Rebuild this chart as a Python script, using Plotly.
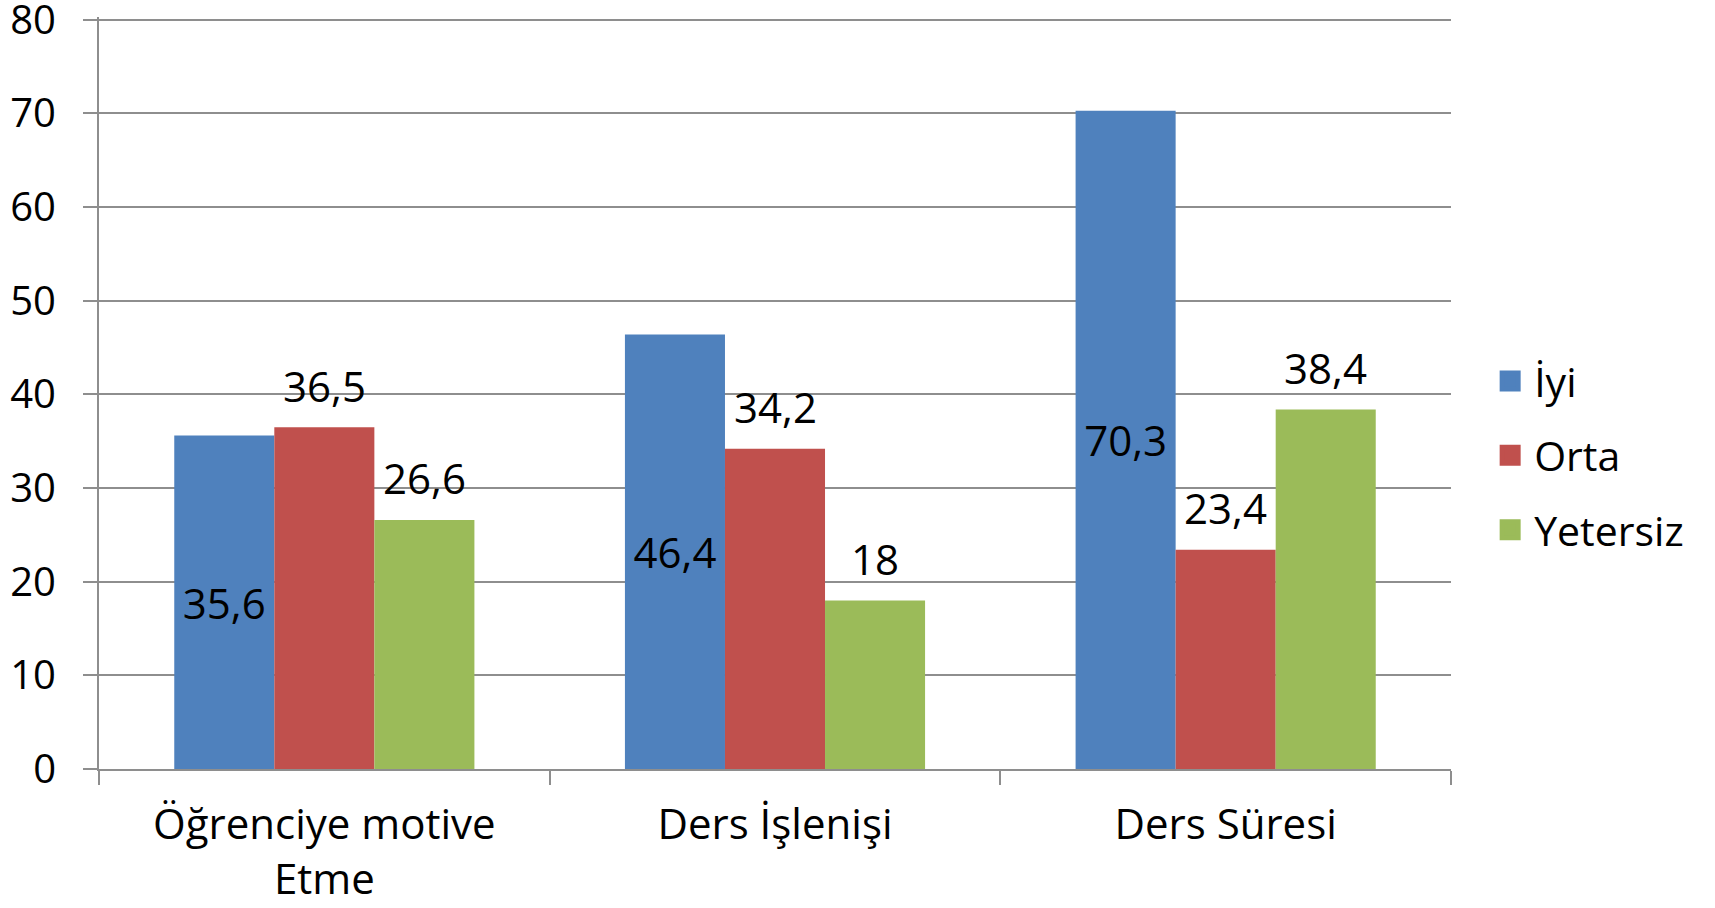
import plotly.graph_objects as go

categories = ["Öğrenciye motive<br>Etme", "Ders İşlenişi", "Ders Süresi"]
series_names = ["İyi", "Orta", "Yetersiz"]
iyi = [35.6, 46.4, 70.3]
orta = [36.5, 34.2, 23.4]
yetersiz = [26.6, 18, 38.4]
y_ticks = [0, 10, 20, 30, 40, 50, 60, 70, 80]

colors = ["#4F81BD", "#C0504D", "#9BBB59"]
FONT = "Open Sans"
GRID = "#8E8E8E"


def fmt(v):
    return str(v).replace(".", ",")


fig = go.Figure()
all_series = [iyi, orta, yetersiz]
for name, vals, col in zip(series_names, all_series, colors):
    is_blue = name == "İyi"
    fig.add_trace(go.Bar(
        x=categories, y=vals, name=name, marker=dict(color=col, line=dict(width=0)),
        text=[fmt(v) for v in vals] if is_blue else None,
        textposition="inside" if is_blue else "none",
        insidetextanchor="middle", constraintext="none",
        textfont=dict(family=FONT, size=42, color="black"),
        showlegend=False,
    ))

# outside labels for Orta and Yetersiz
bar_px = 100
for k, vals in enumerate([orta, yetersiz]):
    for i, v in enumerate(vals):
        fig.add_annotation(
            x=categories[i], y=v, xref="x", yref="y", text=fmt(v), showarrow=False,
            xshift=bar_px * k, yshift=42, yanchor="middle", xanchor="center",
            font=dict(family=FONT, size=42, color="black"),
        )

# legend entries
for k, (name, col) in enumerate(zip(series_names, colors)):
    fig.add_trace(go.Scatter(
        x=[None], y=[None], mode="markers", name=name, legendgroup=name,
        marker=dict(symbol="square", size=16, color=col, line=dict(color=col, width=10)),
        showlegend=True,
    ))

fig.update_layout(
    width=1715, height=908,
    margin=dict(l=99, r=264, t=17, b=139, autoexpand=False),
    paper_bgcolor="white", plot_bgcolor="white",
    barmode="group", bargap=0.334, bargroupgap=0,
    font=dict(family=FONT, size=40, color="black"),
    legend=dict(x=1.026, y=0.417, xanchor="left", yanchor="middle",
                font=dict(family=FONT, size=41, color="black"),
                tracegroupgap=18, traceorder="grouped", itemwidth=38),
    showlegend=True,
)
fig.update_yaxes(
    range=[0, 80.3], tickvals=y_ticks, ticktext=[str(t) for t in y_ticks],
    showgrid=True, gridcolor=GRID, gridwidth=2,
    showline=True, linecolor=GRID, linewidth=2,
    ticks="outside", ticklen=14, tickcolor=GRID, tickwidth=2,
    tickfont=dict(family=FONT, size=40, color="black"),
    ticklabelstandoff=19, zeroline=False, ticklabeloverflow="allow",
)
fig.update_xaxes(
    showline=True, linecolor=GRID, linewidth=2,
    ticks="outside", ticklen=14, tickcolor=GRID, tickwidth=2, tickson="boundaries",
    tickfont=dict(family=FONT, size=42, color="black"),
    ticklabelstandoff=18,
    showgrid=False,
)

fig.write_html("out.html", config={"displayModeBar": False},
               post_script="document.body.style.margin='0';")
